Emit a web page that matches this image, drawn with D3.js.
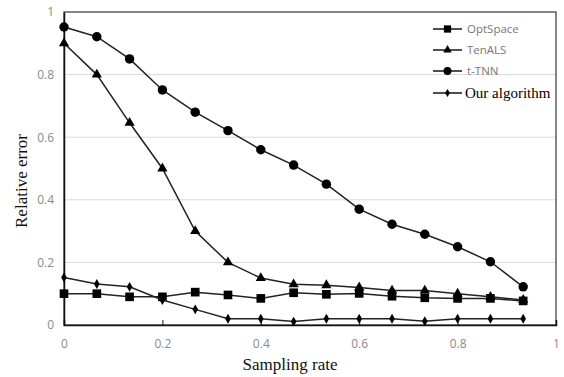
<!DOCTYPE html>
<html>
<head>
<meta charset="utf-8">
<script src="https://cdn.jsdelivr.net/npm/d3@7"></script>
<style>
  body { margin: 0; background: #fff; }
  .tick-label { font-family: "Open Sans", "Liberation Sans", sans-serif; font-size: 12px; fill: #8a8a8a; }
  .axis-title { font-family: "Liberation Serif", "DejaVu Serif", serif; font-size: 17px; fill: #111; }
</style>
</head>
<body>
<div id="wrapper"></div>
<script>
// sampling rates: 0, 1/15, 2/15, ... 14/15
const samplingRates = [0, 0.0667, 0.1333, 0.2, 0.2667, 0.3333, 0.4, 0.4667, 0.5333, 0.6, 0.6667, 0.7333, 0.8, 0.8667, 0.9333];

const optSpace = [0.10, 0.10, 0.09, 0.09, 0.105, 0.096, 0.085, 0.103, 0.098, 0.101, 0.092, 0.087, 0.085, 0.085, 0.077];
const tenALS = [0.90, 0.80, 0.646, 0.50, 0.30, 0.20, 0.15, 0.13, 0.127, 0.12, 0.11, 0.11, 0.10, 0.09, 0.08];
const tTNN = [0.952, 0.921, 0.85, 0.751, 0.68, 0.621, 0.56, 0.511, 0.45, 0.37, 0.322, 0.29, 0.25, 0.202, 0.122];
const ourAlgorithm = [0.152, 0.131, 0.122, 0.08, 0.05, 0.02, 0.02, 0.011, 0.02, 0.02, 0.02, 0.012, 0.02, 0.02, 0.02];

const seriesNames = ['OptSpace', 'TenALS', 't-TNN', 'Our algorithm'];
const xTicks = [0, 0.2, 0.4, 0.6, 0.8, 1];
const yTicks = [0, 0.2, 0.4, 0.6, 0.8, 1];

const series = [
  { name: seriesNames[0], values: optSpace, symbol: d3.symbolSquare, size: 75 },
  { name: seriesNames[1], values: tenALS, symbol: d3.symbolTriangle, size: 45 },
  { name: seriesNames[2], values: tTNN, symbol: d3.symbolCircle, size: 70 },
  { name: seriesNames[3], values: ourAlgorithm, symbol: d3.symbolDiamond, size: 28 },
];

// 1. dimensions
let dimensions = {
  width: 564,
  height: 377,
  margin: { top: 12, right: 8, bottom: 52, left: 64 },
};
dimensions.boundedWidth = dimensions.width - dimensions.margin.left - dimensions.margin.right;
dimensions.boundedHeight = dimensions.height - dimensions.margin.top - dimensions.margin.bottom;

// 2. canvas
const wrapper = d3.select('#wrapper')
  .append('svg')
  .attr('width', dimensions.width)
  .attr('height', dimensions.height);

const bounds = wrapper.append('g')
  .attr('transform', `translate(${dimensions.margin.left},${dimensions.margin.top})`);

// 3. scales
const xScale = d3.scaleLinear().domain([0, 1]).range([0, dimensions.boundedWidth]);
const yScale = d3.scaleLinear().domain([0, 1]).range([dimensions.boundedHeight, 0]);

// 4. gridlines
bounds.append('g')
  .selectAll('line')
  .data(yTicks.filter(d => d > 0 && d < 1))
  .join('line')
  .attr('x1', 0)
  .attr('x2', dimensions.boundedWidth)
  .attr('y1', d => yScale(d))
  .attr('y2', d => yScale(d))
  .attr('stroke', '#d9d9d9')
  .attr('stroke-width', 1);

// frame
bounds.append('rect')
  .attr('x', 0)
  .attr('y', 0)
  .attr('width', dimensions.boundedWidth)
  .attr('height', dimensions.boundedHeight)
  .attr('fill', 'none')
  .attr('stroke', '#444')
  .attr('stroke-width', 1.3);

// x axis, ticks inside
const xAxis = bounds.append('g')
  .attr('transform', `translate(0,${dimensions.boundedHeight})`)
  .call(d3.axisBottom(xScale).tickValues(xTicks).tickSize(-5).tickPadding(14).tickFormat(d3.format('~g')));
xAxis.select('.domain').attr('stroke', '#111').attr('stroke-width', 1.5);
xAxis.selectAll('.tick line').attr('stroke', '#111');
xAxis.selectAll('.tick text').attr('class', 'tick-label').attr('fill', null);

const yAxis = bounds.append('g')
  .call(d3.axisLeft(yScale).tickValues(yTicks).tickSize(0).tickPadding(10).tickFormat(d3.format('~g')));
yAxis.select('.domain').attr('stroke', '#111').attr('stroke-width', 1.5);
yAxis.selectAll('.tick text').attr('class', 'tick-label').attr('fill', null);

// axis titles
wrapper.append('text')
  .attr('class', 'axis-title')
  .attr('x', 290)
  .attr('y', 370)
  .attr('text-anchor', 'middle')
  .text('Sampling rate');

wrapper.append('text')
  .attr('class', 'axis-title')
  .attr('transform', 'translate(27,181) rotate(-90)')
  .attr('text-anchor', 'middle')
  .text('Relative error');

// 5. lines and markers
const lineGen = d3.line()
  .x((d, i) => xScale(samplingRates[i]))
  .y(d => yScale(d));

series.forEach(s => {
  const g = bounds.append('g');
  g.append('path')
    .attr('d', lineGen(s.values))
    .attr('fill', 'none')
    .attr('stroke', '#222')
    .attr('stroke-width', 1.5);
  g.selectAll('path.marker')
    .data(s.values)
    .join('path')
    .attr('class', 'marker')
    .attr('transform', (d, i) => `translate(${xScale(samplingRates[i])},${yScale(d)})`)
    .attr('d', d3.symbol().type(s.symbol).size(s.size))
    .attr('fill', '#000');
});

// 6. legend
const legendRows = [29, 50, 71, 93];
const legend = wrapper.append('g');
series.forEach((s, i) => {
  const row = legend.append('g').attr('transform', `translate(433,${legendRows[i]})`);
  row.append('line')
    .attr('x1', 0).attr('x2', 29)
    .attr('stroke', '#222').attr('stroke-width', 1.6);
  row.append('path')
    .attr('transform', 'translate(14.5,0)')
    .attr('d', d3.symbol().type(s.symbol).size(s.size * 0.7))
    .attr('fill', '#000');
  const last = i === series.length - 1;
  row.append('text')
    .attr('x', last ? 32 : 34)
    .attr('y', 0)
    .attr('dy', '0.35em')
    .style('font-family', last ? '"Liberation Serif", serif' : '"Open Sans", "Liberation Sans", sans-serif')
    .style('font-size', last ? '15px' : '11.5px')
    .attr('fill', last ? '#000' : '#777')
    .text(s.name);
});
</script>
</body>
</html>
